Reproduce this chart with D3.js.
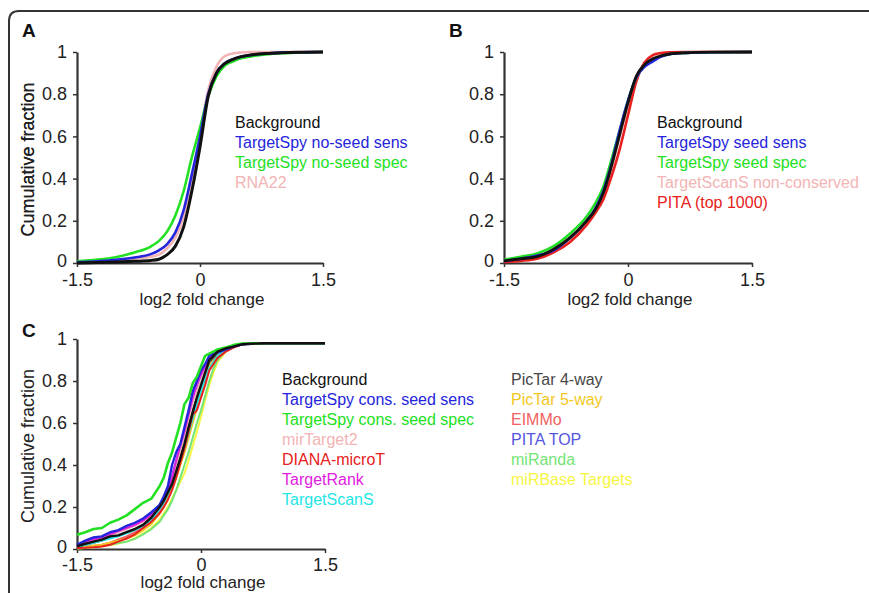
<!DOCTYPE html>
<html>
<head>
<meta charset="utf-8">
<script src="https://cdn.jsdelivr.net/npm/d3@7"></script>
<style>
  body { margin: 0; background: #fff; }
  svg { display: block; font-family: Arial, "Liberation Sans", sans-serif; }
</style>
</head>
<body>
<svg width="869" height="593"></svg>
<script>
const svg = d3.select('svg')

// ---- data ----
const yTicks = [0, 0.2, 0.4, 0.6, 0.8, 1]
const xTicks = [-1.5, 0, 1.5]

// panel A
const xsA = [-1.5, -1.25, -1, -0.8, -0.6, -0.5, -0.4, -0.3, -0.2, -0.1, 0, 0.1, 0.2, 0.3, 0.4, 0.5, 0.6, 0.8, 1, 1.25, 1.5]
const bgA    = [0, 0.002, 0.005, 0.008, 0.012, 0.018, 0.04, 0.08, 0.17, 0.34, 0.55, 0.79, 0.9, 0.945, 0.965, 0.978, 0.985, 0.993, 0.997, 0.999, 1]
const sensA  = [0.004, 0.008, 0.016, 0.026, 0.042, 0.06, 0.09, 0.145, 0.25, 0.42, 0.6, 0.8, 0.9, 0.945, 0.965, 0.978, 0.985, 0.993, 0.997, 0.999, 1]
const specA  = [0.008, 0.016, 0.03, 0.05, 0.078, 0.105, 0.15, 0.225, 0.34, 0.5, 0.64, 0.79, 0.885, 0.935, 0.955, 0.97, 0.978, 0.988, 0.994, 0.998, 1]
const rna22A = [0.003, 0.006, 0.012, 0.02, 0.03, 0.04, 0.07, 0.12, 0.22, 0.4, 0.6, 0.82, 0.93, 0.98, 0.993, 0.998, 1, 1, 1, 1, 1]
const namesA = ['Background', 'TargetSpy no-seed sens', 'TargetSpy no-seed spec', 'RNA22']

// panel B
const xsB = [-1.5, -1.3, -1.1, -0.9, -0.7, -0.5, -0.4, -0.3, -0.2, -0.1, 0, 0.1, 0.2, 0.3, 0.4, 0.5, 0.7, 1, 1.5]
const bgB   = [0.01, 0.02, 0.03, 0.065, 0.12, 0.2, 0.25, 0.33, 0.46, 0.61, 0.76, 0.885, 0.94, 0.968, 0.982, 0.99, 0.996, 0.999, 1]
const sensB = [0.01, 0.02, 0.035, 0.06, 0.12, 0.2, 0.255, 0.34, 0.47, 0.63, 0.77, 0.88, 0.93, 0.955, 0.978, 0.99, 0.996, 0.999, 1]
const specB = [0.015, 0.03, 0.045, 0.08, 0.14, 0.22, 0.28, 0.36, 0.49, 0.63, 0.77, 0.88, 0.935, 0.965, 0.98, 0.99, 0.996, 0.999, 1]
const tsnB  = [0.01, 0.02, 0.03, 0.06, 0.115, 0.195, 0.25, 0.32, 0.45, 0.6, 0.75, 0.88, 0.94, 0.97, 0.985, 0.993, 0.998, 1, 1]
const pitaB = [0.005, 0.01, 0.02, 0.05, 0.1, 0.18, 0.235, 0.3, 0.41, 0.54, 0.7, 0.86, 0.95, 0.985, 0.995, 0.999, 1, 1, 1]
const namesB = ['Background', 'TargetSpy seed sens', 'TargetSpy seed spec', 'TargetScanS non-conserved', 'PITA (top 1000)']

// panel C
const xsC = [-1.5, -1.4, -1.3, -1.2, -1.1, -1, -0.9, -0.8, -0.7, -0.6, -0.5, -0.45, -0.4, -0.35, -0.3, -0.25, -0.2, -0.15, -0.1, -0.05, 0, 0.05, 0.1, 0.15, 0.2, 0.3, 0.4, 0.5, 0.75, 1, 1.5]
const bgC      = [0.013, 0.025, 0.035, 0.045, 0.06, 0.065, 0.08, 0.095, 0.115, 0.15, 0.2, 0.23, 0.27, 0.31, 0.37, 0.43, 0.5, 0.58, 0.65, 0.72, 0.78, 0.84, 0.9, 0.92, 0.94, 0.955, 0.965, 0.975, 0.98, 0.98, 0.98]
const sensC    = [0.02, 0.04, 0.055, 0.06, 0.08, 0.09, 0.11, 0.125, 0.145, 0.175, 0.21, 0.25, 0.3, 0.4, 0.46, 0.5, 0.58, 0.66, 0.75, 0.8, 0.85, 0.88, 0.92, 0.93, 0.935, 0.95, 0.965, 0.975, 0.98, 0.98, 0.98]
const specC    = [0.068, 0.08, 0.095, 0.1, 0.125, 0.14, 0.16, 0.19, 0.22, 0.24, 0.3, 0.34, 0.41, 0.46, 0.53, 0.6, 0.69, 0.72, 0.79, 0.82, 0.87, 0.92, 0.93, 0.94, 0.95, 0.96, 0.972, 0.978, 0.98, 0.98, 0.98]
const mirT2C   = [0.012, 0.03, 0.04, 0.05, 0.065, 0.08, 0.095, 0.11, 0.13, 0.16, 0.2, 0.23, 0.27, 0.33, 0.4, 0.47, 0.54, 0.62, 0.7, 0.75, 0.8, 0.86, 0.9, 0.92, 0.94, 0.955, 0.965, 0.975, 0.98, 0.98, 0.98]
const dianaC   = [0.005, 0.006, 0.008, 0.012, 0.02, 0.035, 0.05, 0.07, 0.1, 0.13, 0.17, 0.2, 0.235, 0.28, 0.34, 0.41, 0.48, 0.56, 0.64, 0.66, 0.72, 0.78, 0.85, 0.88, 0.91, 0.94, 0.96, 0.975, 0.98, 0.98, 0.98]
const rankC    = [0.015, 0.035, 0.045, 0.055, 0.07, 0.085, 0.1, 0.115, 0.135, 0.165, 0.2, 0.235, 0.28, 0.34, 0.42, 0.49, 0.56, 0.64, 0.72, 0.78, 0.83, 0.87, 0.91, 0.93, 0.94, 0.955, 0.965, 0.975, 0.98, 0.98, 0.98]
const tscanC   = [0.01, 0.02, 0.03, 0.04, 0.05, 0.06, 0.075, 0.09, 0.11, 0.14, 0.19, 0.22, 0.26, 0.31, 0.36, 0.42, 0.48, 0.55, 0.62, 0.69, 0.75, 0.81, 0.86, 0.89, 0.92, 0.95, 0.965, 0.975, 0.98, 0.98, 0.98]
const pic4C    = [0.01, 0.02, 0.03, 0.04, 0.055, 0.065, 0.08, 0.095, 0.115, 0.15, 0.2, 0.23, 0.27, 0.32, 0.38, 0.44, 0.5, 0.58, 0.66, 0.72, 0.78, 0.84, 0.89, 0.91, 0.935, 0.955, 0.965, 0.975, 0.98, 0.98, 0.98]
const pic5C    = [0.005, 0.01, 0.015, 0.02, 0.03, 0.04, 0.05, 0.065, 0.09, 0.12, 0.17, 0.2, 0.24, 0.29, 0.34, 0.4, 0.46, 0.53, 0.6, 0.67, 0.74, 0.81, 0.87, 0.9, 0.93, 0.955, 0.965, 0.975, 0.98, 0.98, 0.98]
const eimmoC   = [0.008, 0.01, 0.015, 0.02, 0.03, 0.045, 0.06, 0.08, 0.105, 0.14, 0.18, 0.21, 0.25, 0.3, 0.35, 0.41, 0.48, 0.55, 0.62, 0.68, 0.74, 0.8, 0.86, 0.89, 0.92, 0.95, 0.965, 0.975, 0.98, 0.98, 0.98]
const pitaC    = [0.015, 0.035, 0.045, 0.055, 0.07, 0.085, 0.1, 0.115, 0.14, 0.17, 0.21, 0.25, 0.29, 0.35, 0.42, 0.49, 0.56, 0.64, 0.72, 0.78, 0.83, 0.87, 0.91, 0.925, 0.94, 0.955, 0.965, 0.975, 0.98, 0.98, 0.98]
const mirandaC = [0.005, 0.007, 0.01, 0.015, 0.02, 0.028, 0.035, 0.048, 0.07, 0.095, 0.13, 0.16, 0.19, 0.23, 0.28, 0.34, 0.4, 0.46, 0.53, 0.6, 0.66, 0.73, 0.8, 0.86, 0.9, 0.945, 0.965, 0.975, 0.98, 0.98, 0.98]
const mirbaseC = [0.002, 0.005, 0.008, 0.012, 0.018, 0.026, 0.035, 0.05, 0.075, 0.1, 0.14, 0.17, 0.2, 0.24, 0.28, 0.32, 0.36, 0.42, 0.49, 0.56, 0.63, 0.71, 0.78, 0.84, 0.89, 0.94, 0.965, 0.975, 0.98, 0.98, 0.98]
const namesC1 = ['Background', 'TargetSpy cons. seed sens', 'TargetSpy cons. seed spec', 'mirTarget2', 'DIANA-microT', 'TargetRank', 'TargetScanS']
const namesC2 = ['PicTar 4-way', 'PicTar 5-way', 'EIMMo', 'PITA TOP', 'miRanda', 'miRBase Targets']

const col = {
  black: '#111', blue: '#2424dc', green: '#22e022', pink: '#f2b4b4', red: '#e82020',
  magenta: '#e020e0', cyan: '#22e6e6', gray: '#474747', gold: '#f2c81e',
  eimmo: '#f06262', pita: '#5555e0', miranda: '#74e474', mirbase: '#f6f642'
}

// ---- frame ----
svg.append('path')
  .attr('d', 'M 872 11 H 19 Q 9 11 9 21 V 600')
  .attr('fill', 'none').attr('stroke', '#333').attr('stroke-width', 2)

// ---- panel helper ----
const fmt = d => d === 0 ? '0' : d === 1 ? '1' : d3.format('.1f')(d).replace('\u2212', '-')

const panel = ({ left, right, top, bottom, letter, letterY, xs, series, curve, width, tickBase, titleBase }) => {
  const x = d3.scaleLinear().domain([-1.5, 1.5]).range([left, right])
  const y = d3.scaleLinear().domain([0, 1]).range([bottom, top])
  const g = svg.append('g')

  const ya = g.append('g').attr('transform', `translate(${left},0)`)
    .call(d3.axisLeft(y).tickValues(yTicks).tickFormat(fmt).tickSize(4).tickSizeOuter(0).tickPadding(6))
  const xa = g.append('g').attr('transform', `translate(0,${bottom})`)
    .call(d3.axisBottom(x).tickValues(xTicks).tickFormat(fmt).tickSize(4).tickSizeOuter(0).tickPadding(tickBase - bottom - 17))
  ;[ya, xa].forEach(a => {
    a.select('.domain').attr('stroke', '#333').attr('stroke-width', 2.2)
    a.selectAll('.tick line').attr('stroke', '#333').attr('stroke-width', 1.5)
    a.selectAll('.tick text').attr('fill', '#222').style('font-size', '18px')
  })
  // the "0" on the y axis sits a touch high so it clears the x labels
  ya.selectAll('.tick text').filter(d => d === 0).attr('dy', '0.2em')

  const line = d3.line().x((d, i) => x(xs[i])).y(d => y(d)).curve(curve)
  series.forEach(s => {
    g.append('path').datum(s.values)
      .attr('d', line)
      .attr('fill', 'none')
      .attr('stroke', s.color)
      .attr('stroke-width', s.w || width)
      .attr('stroke-linejoin', 'round')
  })

  g.append('text').attr('x', (left + right) / 2 + 2).attr('y', titleBase)
    .attr('text-anchor', 'middle').attr('fill', '#222').style('font-size', '17px')
    .text('log2 fold change')
  g.append('text')
    .attr('transform', `translate(34,${(top + bottom) / 2 + 2}) rotate(-90)`)
    .attr('text-anchor', 'middle').attr('fill', '#222').style('font-size', '18px')
    .text('Cumulative fraction')
  g.append('text').attr('x', left - 55).attr('y', letterY)
    .attr('font-weight', 'bold').attr('fill', '#111').style('font-size', '19px')
    .text(letter)
  return g
}

const legend = (gx, y0, names, colors) => {
  svg.append('g').selectAll('text').data(names).join('text')
    .attr('x', gx).attr('y', (d, i) => y0 + i * 20)
    .attr('fill', (d, i) => colors[i])
    .style('font-size', '16px')
    .text(d => d)
}

// A
panel({
  left: 77, right: 323, top: 52, bottom: 263, letter: 'A', letterY: 37,
  xs: xsA, curve: d3.curveMonotoneX, width: 2.6, tickBase: 286, titleBase: 305,
  series: [
    { values: rna22A, color: col.pink },
    { values: specA, color: col.green },
    { values: sensA, color: col.blue },
    { values: bgA, color: col.black, w: 3 }
  ]
})
legend(235, 128, namesA, [col.black, col.blue, col.green, col.pink])

// B
panel({
  left: 504, right: 752, top: 52, bottom: 263, letter: 'B', letterY: 37,
  xs: xsB, curve: d3.curveMonotoneX, width: 2.6, tickBase: 286, titleBase: 305,
  series: [
    { values: tsnB, color: col.pink },
    { values: pitaB, color: col.red },
    { values: specB, color: col.green },
    { values: sensB, color: col.blue },
    { values: bgB, color: col.black, w: 2.8 }
  ]
})
legend(657, 128, namesB, [col.black, col.blue, col.green, col.pink, col.red])

// C
panel({
  left: 77, right: 325, top: 339, bottom: 549, letter: 'C', letterY: 337,
  xs: xsC, curve: d3.curveLinear, width: 2, tickBase: 571, titleBase: 588,
  series: [
    { values: mirbaseC, color: col.mirbase },
    { values: mirandaC, color: col.miranda },
    { values: pitaC, color: col.pita },
    { values: eimmoC, color: col.eimmo },
    { values: pic5C, color: col.gold },
    { values: pic4C, color: col.gray },
    { values: tscanC, color: col.cyan },
    { values: mirT2C, color: col.pink },
    { values: rankC, color: col.magenta },
    { values: dianaC, color: col.red },
    { values: sensC, color: col.blue, w: 2.4 },
    { values: specC, color: col.green, w: 2.6 },
    { values: bgC, color: col.black, w: 2.4 }
  ]
})
legend(282, 385, namesC1, [col.black, col.blue, col.green, col.pink, col.red, col.magenta, col.cyan])
legend(511, 385, namesC2, [col.gray, col.gold, col.eimmo, col.pita, col.miranda, col.mirbase])
</script>
</body>
</html>
